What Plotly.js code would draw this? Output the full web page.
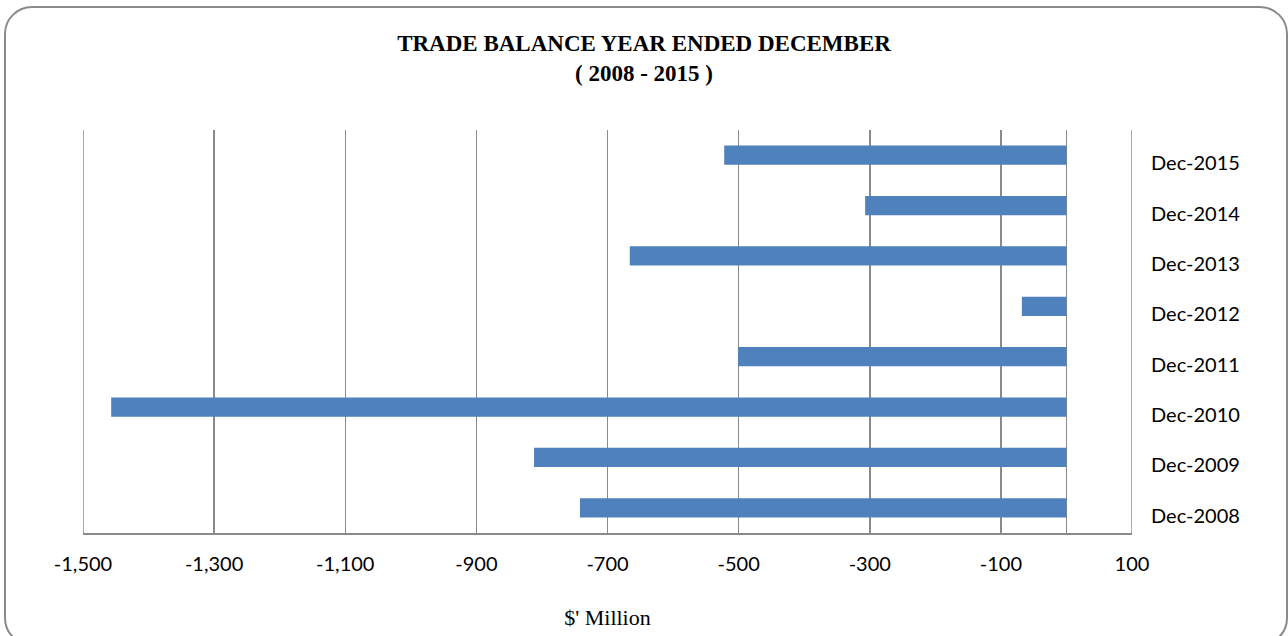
<!DOCTYPE html>
<html>
<head>
<meta charset="utf-8">
<script src="https://cdn.plot.ly/plotly-3.0.1.min.js"></script>
<style>
  html, body { margin: 0; padding: 0; background: #ffffff; }
  #wrap { position: relative; width: 1288px; height: 636px; overflow: hidden; }
  #frame { position: absolute; left: 4px; top: 6px; width: 1284px; height: 640px;
           border: 2px solid #8a8a8a; border-radius: 28px; box-sizing: border-box; pointer-events: none; }
  #chart { position: absolute; left: 0; top: 0; width: 1288px; height: 636px; }
</style>
</head>
<body>
<div id="wrap">
  <div id="chart"></div>
  <div id="frame"></div>
</div>
<script>
const categories = ["Dec-2008", "Dec-2009", "Dec-2010", "Dec-2011", "Dec-2012", "Dec-2013", "Dec-2014", "Dec-2015"];
const tradeBalance = [-742, -812, -1457, -501, -68, -666, -307, -522];
const xTickValues = [-1500, -1300, -1100, -900, -700, -500, -300, -100, 100];
const xTickLabels = ["-1,500", "-1,300", "-1,100", "-900", "-700", "-500", "-300", "-100", "100"];

const xMin = xTickValues[0];
const xMax = xTickValues[xTickValues.length - 1];

const trace = {
  type: "bar",
  orientation: "h",
  x: tradeBalance,
  y: categories,
  marker: { color: "#4f81bd" },
  hoverinfo: "x+y"
};

const gridColor = "#8a8a8a";

const layout = {
  width: 1288,
  height: 636,
  paper_bgcolor: "rgba(0,0,0,0)",
  plot_bgcolor: "rgba(0,0,0,0)",
  margin: { l: 83, r: 156, t: 130, b: 103 },
  bargap: 0.62,
  showlegend: false,
  title: {
    text: "<b>TRADE BALANCE YEAR ENDED DECEMBER<br>( 2008 - 2015 )</b>",
    font: { family: "Liberation Serif, serif", size: 23, color: "#000000" },
    x: 0.5,
    xref: "container",
    xanchor: "center",
    y: 0.92,
    yref: "container",
    yanchor: "top"
  },
  xaxis: {
    range: [xMin, xMax],
    tickvals: xTickValues,
    ticktext: xTickLabels,
    showgrid: true,
    gridcolor: gridColor,
    gridwidth: 1.5,
    zeroline: true,
    zerolinecolor: gridColor,
    zerolinewidth: 1.5,
    showline: true,
    linecolor: gridColor,
    linewidth: 1.5,
    ticks: "",
    ticklabelstandoff: 12,
    tickfont: { family: "Lato, sans-serif", size: 20, color: "#000000" },
    title: {
      text: "$' Million",
      font: { family: "Liberation Serif, serif", size: 22, color: "#000000" },
      standoff: 36
    },
    fixedrange: true
  },
  yaxis: {
    type: "category",
    categoryorder: "array",
    categoryarray: categories,
    side: "right",
    showgrid: false,
    zeroline: false,
    showline: false,
    ticks: "",
    ticklabelstandoff: 18,
    ticklabelshift: 8,
    tickfont: { family: "Lato, sans-serif", size: 20, color: "#000000" },
    fixedrange: true
  },
  shapes: [
    { type: "line", xref: "x", yref: "paper", x0: xMin, x1: xMin, y0: 0, y1: 1,
      line: { color: gridColor, width: 1.5 }, layer: "below" },
    { type: "line", xref: "x", yref: "paper", x0: xMax, x1: xMax, y0: 0, y1: 1,
      line: { color: gridColor, width: 1.5 }, layer: "below" }
  ]
};

Plotly.newPlot("chart", [trace], layout, { displayModeBar: false, staticPlot: true });
</script>
</body>
</html>
